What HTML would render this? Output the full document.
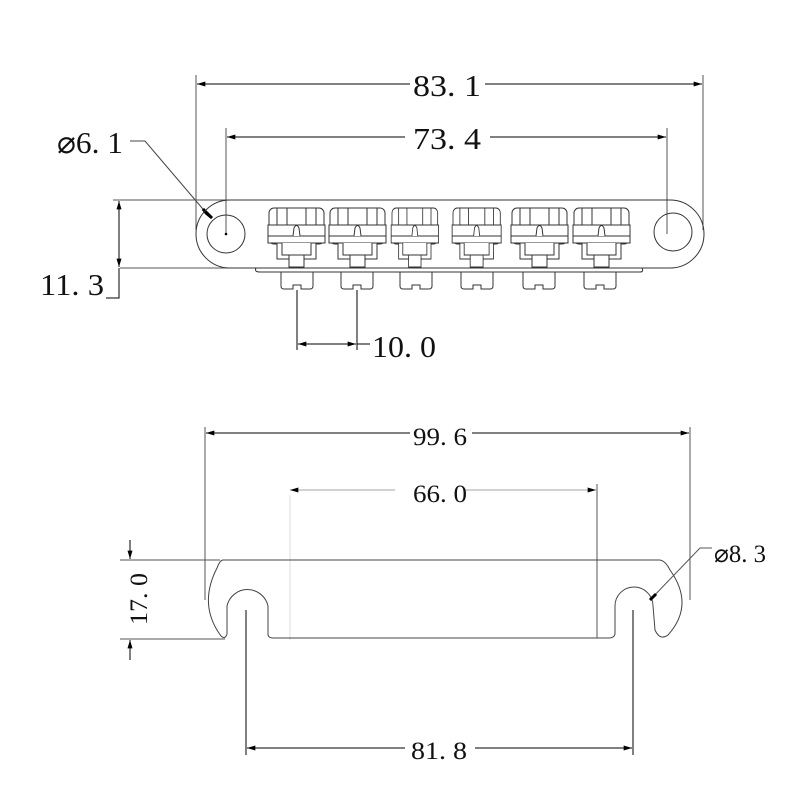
<!DOCTYPE html>
<html><head><style>html,body{margin:0;padding:0;background:#fff}svg{display:block}</style></head><body>
<svg width="800" height="800" viewBox="0 0 800 800" xmlns="http://www.w3.org/2000/svg" font-family="'Liberation Serif',serif">
<defs>
<marker id="a" viewBox="0 0 10 6" refX="10" refY="3" markerWidth="10" markerHeight="5" orient="auto-start-reverse" markerUnits="userSpaceOnUse"><path d="M0,0 L10,3 L0,6z" fill="#000"/></marker>
<g id="sad" fill="#fff" stroke="#333" stroke-width="1">
<rect x="0" y="0" width="55" height="36" rx="5"/>
<line x1="8" y1="0" x2="8" y2="17"/><line x1="47" y1="0" x2="47" y2="17"/><line x1="18" y1="0" x2="18" y2="17"/><line x1="37" y1="0" x2="37" y2="17"/>
<rect x="-1" y="17" width="57" height="18"/>
<line x1="-1" y1="28" x2="56" y2="28"/>
<path d="M24,28 L25,20 Q27.5,15 30,20 L31,28" />
<rect x="8" y="35" width="39" height="16"/>
<path d="M13,35 V47 H42 V35"/>
<rect x="20" y="47" width="15" height="12"/>
</g>
<g id="scr" fill="#fff" stroke="#333" stroke-width="1">
<path d="M-16,0 H16 V14 Q16,17 13,17 H4 V13 H-4 V17 H-13 Q-16,17 -16,14 Z"/>
</g>
</defs>
<g stroke="#000" fill="none" stroke-width="1">
<line x1="196" y1="75" x2="196" y2="230" stroke="#555"/>
<line x1="703" y1="75" x2="703" y2="230" stroke="#555"/>
<line x1="197" y1="84" x2="410" y2="84" marker-start="url(#a)"/>
<line x1="485" y1="84" x2="702" y2="84" marker-end="url(#a)"/>
<line x1="226" y1="128" x2="226" y2="234" stroke="#555"/>
<line x1="667" y1="128" x2="667" y2="234" stroke="#555"/>
<line x1="227" y1="137" x2="405" y2="137" marker-start="url(#a)"/>
<line x1="490" y1="137" x2="666" y2="137" marker-end="url(#a)"/>
<polyline points="130,141 145,141 208,215" stroke="#444"/>
<path d="M203,209 L212,218 L206,213z" stroke-width="3"/>
<line x1="113" y1="200" x2="600" y2="200" stroke="#555"/>
<line x1="120" y1="268" x2="660" y2="268" stroke="#555"/>
<line x1="119" y1="201" x2="119" y2="267" marker-start="url(#a)" marker-end="url(#a)"/>
<polyline points="119,268 119,298 106,298"/>
<path d="M230,200 H670 A34,34 0 0 1 670,268 H230 A34,34 0 0 1 230,200Z" stroke="#333"/>
<circle cx="226" cy="234" r="19" stroke="#333"/>
<circle cx="673" cy="232" r="19" stroke="#333"/>
<circle cx="226" cy="234" r="0.8" fill="#000"/>
<path d="M256,268 Q254,272 260,272 H640 Q644,272 642,268" stroke="#333"/>
<line x1="297" y1="290" x2="297" y2="350"/>
<line x1="357" y1="290" x2="357" y2="350"/>
<line x1="298" y1="344" x2="356" y2="344" marker-start="url(#a)" marker-end="url(#a)"/>
<line x1="357" y1="344" x2="370" y2="344"/>
</g>
<use href="#sad" x="269" y="208"/>
<use href="#sad" x="330" y="208"/>
<use href="#sad" transform="translate(392 208) scale(0.83 1)"/>
<use href="#sad" transform="translate(453 208) scale(0.86 1)"/>
<use href="#sad" x="512" y="208"/>
<use href="#sad" x="574" y="208"/>
<use href="#scr" x="297" y="272"/><use href="#scr" x="357" y="272"/><use href="#scr" x="416" y="272"/>
<use href="#scr" x="477" y="272"/><use href="#scr" x="539" y="272"/><use href="#scr" x="600" y="272"/>
<g font-size="31" fill="#111">
<text x="413" y="96" textLength="68" lengthAdjust="spacingAndGlyphs">83. 1</text>
<text x="413" y="149" textLength="68" lengthAdjust="spacingAndGlyphs">73. 4</text>
<text x="57" y="153" textLength="66" lengthAdjust="spacingAndGlyphs">⌀6. 1</text>
<text x="40" y="295" textLength="64" lengthAdjust="spacingAndGlyphs">11. 3</text>
<text x="372" y="357" textLength="64" lengthAdjust="spacingAndGlyphs">10. 0</text>
</g>
<g stroke="#000" fill="none" stroke-width="1">
<line x1="205" y1="427" x2="205" y2="600" stroke="#555"/>
<line x1="690" y1="427" x2="690" y2="600" stroke="#555"/>
<line x1="206" y1="433" x2="410" y2="433" marker-start="url(#a)"/>
<line x1="472" y1="433" x2="689" y2="433" marker-end="url(#a)"/>
<line x1="290" y1="490" x2="395" y2="490" stroke="#888" stroke-width="0.7" marker-start="url(#a)"/>
<line x1="465" y1="490" x2="596" y2="490" stroke="#888" stroke-width="0.7" marker-end="url(#a)"/>
<line x1="290" y1="495" x2="290" y2="640" stroke="#ddd"/>
<line x1="597" y1="484" x2="597" y2="638" stroke="#555"/>
<line x1="120" y1="560" x2="220" y2="560" stroke="#555"/>
<line x1="120" y1="639" x2="225" y2="639" stroke="#555"/>
<line x1="130" y1="540" x2="130" y2="559" marker-end="url(#a)"/>
<line x1="130" y1="660" x2="130" y2="640" marker-end="url(#a)"/>
<path d="M223,560 H659 Q665,560 670,570 Q695,605 668,635 Q660,641 655,630 L653,606 A19,19 0 0 0 615,606 V634 Q614,638 609,638 H273 Q268,638 268,634 V606 A21,21 0 0 0 227,606 V634 Q225,640 221,636 Q198,605 217,568 Q220,560 223,560Z" stroke="#444"/>
<line x1="246" y1="610" x2="246" y2="755"/>
<line x1="633" y1="610" x2="633" y2="755"/>
<line x1="247" y1="748" x2="405" y2="748" marker-start="url(#a)"/>
<line x1="475" y1="748" x2="632" y2="748" marker-end="url(#a)"/>
<polyline points="650,600 700,548 712,548" stroke="#555"/>
<path d="M650,600 L656,594" stroke-width="3"/>
</g>
<g font-size="25" fill="#111">
<text x="413" y="445" textLength="54" lengthAdjust="spacingAndGlyphs">99. 6</text>
<text x="413" y="502" textLength="54" lengthAdjust="spacingAndGlyphs">66. 0</text>
<text x="411" y="759" textLength="56" lengthAdjust="spacingAndGlyphs">81. 8</text>
<text x="714" y="562" textLength="52" lengthAdjust="spacingAndGlyphs">⌀8. 3</text>
<text transform="translate(147 625) rotate(-90)" textLength="52" lengthAdjust="spacingAndGlyphs">17. 0</text>
</g>
</svg>
</body></html>
